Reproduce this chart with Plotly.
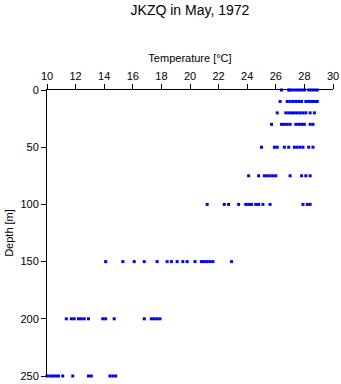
import plotly.graph_objects as go

depths = [0, 10, 20, 30, 50, 75, 100, 150, 200, 250]
temp_0 = [26.4, 26.9, 27.0, 27.2, 27.4, 27.6, 27.8, 28.0, 28.3, 28.5, 28.7, 28.9]
temp_10 = [26.3, 26.8, 27.0, 27.2, 27.4, 27.6, 27.8, 28.1, 28.3, 28.5, 28.7, 28.9]
temp_20 = [26.1, 26.7, 26.9, 27.1, 27.3, 27.5, 27.7, 27.9, 28.1, 28.4, 28.7]
temp_30 = [25.7, 26.4, 26.6, 26.8, 27.0, 27.4, 27.6, 27.8, 28.0, 28.4, 28.6]
temp_50 = [25.0, 25.9, 26.1, 26.6, 26.9, 27.3, 27.5, 27.7, 27.9, 28.3, 28.6]
temp_75 = [24.1, 24.8, 25.2, 25.4, 25.6, 25.8, 26.0, 27.0, 27.8, 28.1, 28.4]
temp_100 = [21.2, 22.4, 22.7, 23.4, 23.9, 24.1, 24.3, 24.6, 24.8, 25.1, 25.6, 27.9, 28.2, 28.4]
temp_150 = [14.1, 15.3, 16.1, 16.8, 17.7, 18.4, 18.7, 19.1, 19.5, 19.8, 20.35, 20.8, 21.0, 21.2, 21.4, 21.6, 22.9]
temp_200 = [11.35, 11.7, 11.9, 12.2, 12.4, 12.6, 12.9, 13.9, 14.1, 14.7, 16.8, 17.3, 17.5, 17.7, 17.9]
temp_250 = [10.0, 10.2, 10.4, 10.6, 10.8, 11.1, 11.8, 12.9, 13.1, 14.4, 14.6, 14.8]

temps_by_depth = [temp_0, temp_10, temp_20, temp_30, temp_50, temp_75,
                  temp_100, temp_150, temp_200, temp_250]
x_ticks = list(range(10, 31, 2))
y_ticks = [0, 50, 100, 150, 200, 250]

xs, ys = [], []
for d, ts in zip(depths, temps_by_depth):
    for t in ts:
        xs.append(t)
        ys.append(d)

font = "Liberation Sans, Arial, Helvetica, sans-serif"

fig = go.Figure(go.Scatter(
    x=xs, y=ys, mode="markers",
    marker=dict(symbol="square", size=3, color="#0000ff", line=dict(width=0)),
    cliponaxis=False, showlegend=False,
))

fig.update_layout(
    width=341, height=384,
    margin=dict(l=47, r=8, t=90, b=8),
    paper_bgcolor="white", plot_bgcolor="white",
    font=dict(family=font, size=11, color="black"),
    title=dict(text="JKZQ in May, 1972", x=0.5, xref="paper", xanchor="center",
               y=1 - 10 / 384, yanchor="middle", font=dict(size=14, family=font)),
    xaxis=dict(side="top", range=[10, 30], tickvals=x_ticks, automargin=False,
               showgrid=False, zeroline=False, showline=True,
               linecolor="black", linewidth=1, ticks="outside",
               ticklen=5, tickcolor="black",
               title=dict(text="Temperature [°C]", standoff=4, font=dict(size=11))),
    yaxis=dict(range=[250, 0], tickvals=y_ticks, automargin=False,
               showgrid=False, zeroline=False, showline=True,
               linecolor="black", linewidth=1, ticks="outside",
               ticklen=5, tickcolor="black",
               title=dict(text="Depth [m]", standoff=4, font=dict(size=11))),
)

fig.write_html("out.html")
